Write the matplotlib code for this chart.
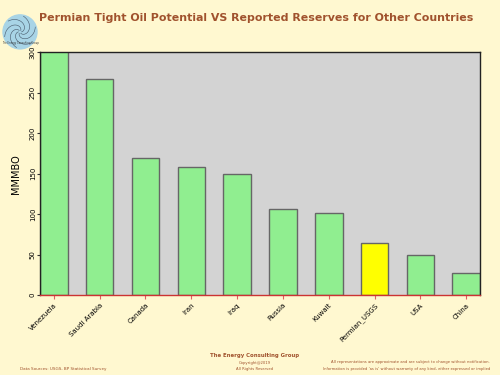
import numpy as np
import matplotlib.pyplot as plt
from matplotlib.patches import Circle

# --- Data ---
countries = ["Venezuela", "Saudi Arabia", "Canada", "Iran", "Iraq",
             "Russia", "Kuwait", "Permian_USGS", "USA", "China"]
reserves = [303, 267, 169, 158, 149, 106, 102, 64, 50, 27]
highlight = "Permian_USGS"

BG = "#FFF8D0"
BROWN = "#A0522D"

fig = plt.figure(figsize=(5, 3.75), dpi=100, facecolor=BG)
ax = fig.add_axes([0.08, 0.213, 0.88, 0.648])
ax.set_facecolor("#D3D3D3")

colors = ["#FFFF00" if c == highlight else "#90EE90" for c in countries]
x = np.arange(len(countries))
ax.bar(x, reserves, width=0.6, color=colors, edgecolor="#666666", linewidth=1.0)

ax.set_xlim(-0.3, len(countries) - 0.7)
ax.set_ylim(0, 300)
ax.set_yticks([0, 50, 100, 150, 200, 250, 300])
ax.tick_params(axis="y", labelsize=5, rotation=90, length=2, pad=1, color="#333333")
for lbl in ax.get_yticklabels():
    lbl.set_va("center")
ax.set_xticks(x)
ax.set_xticklabels(countries, rotation=45, ha="right", rotation_mode="anchor", fontsize=5)
ax.tick_params(axis="x", length=3, color="#E06060", pad=2)

ax.spines["bottom"].set_color("#CC3333")
ax.spines["bottom"].set_linewidth(1.0)
for s in ["left", "top", "right"]:
    ax.spines[s].set_color("#222222")
    ax.spines[s].set_linewidth(1.0)

ax.set_ylabel("MMMBO", fontsize=7, labelpad=6)

fig.text(0.512, 0.952, "Permian Tight Oil Potential VS Reported Reserves for Other Countries",
         ha="center", va="center", fontsize=7.9, fontweight="bold", color=BROWN)

# logo
logo = fig.add_axes([0.0, 0.86, 0.08, 0.11])
logo.set_xlim(-1, 1)
logo.set_ylim(-1, 1)
logo.set_aspect("equal")
logo.axis("off")
logo.add_patch(Circle((0, 0), 0.85, color="#A8D4E6"))
for k in range(6):
    t = np.linspace(0, 2.4, 40)
    r = 0.08 + 0.3 * t
    a = t + k * np.pi / 3
    logo.plot(r * np.cos(a), r * np.sin(a), color="#445566", lw=0.4)
fig.text(0.04, 0.885, "The Energy Consulting Group", ha="center", va="center",
         fontsize=1.8, color="#333333")

# footer
fig.text(0.51, 0.051, "The Energy Consulting Group", ha="center", va="center",
         fontsize=3.9, fontweight="bold", color=BROWN)
fig.text(0.51, 0.032, "Copyright@2019", ha="center", va="center",
         fontsize=2.7, color=BROWN)
fig.text(0.51, 0.016, "All Rights Reserved", ha="center", va="center",
         fontsize=2.7, color=BROWN)
fig.text(0.04, 0.016, "Data Sources: USGS, BP Statistical Survey", ha="left", va="center",
         fontsize=3.0, color=BROWN)
fig.text(0.98, 0.034, "All representations are approximate and are subject to change without notification.",
         ha="right", va="center", fontsize=2.7, color=BROWN)
fig.text(0.98, 0.016, "Information is provided 'as is' without warranty of any kind, either expressed or implied",
         ha="right", va="center", fontsize=2.7, color=BROWN)

fig.savefig("out.png", dpi=100, facecolor=BG)
